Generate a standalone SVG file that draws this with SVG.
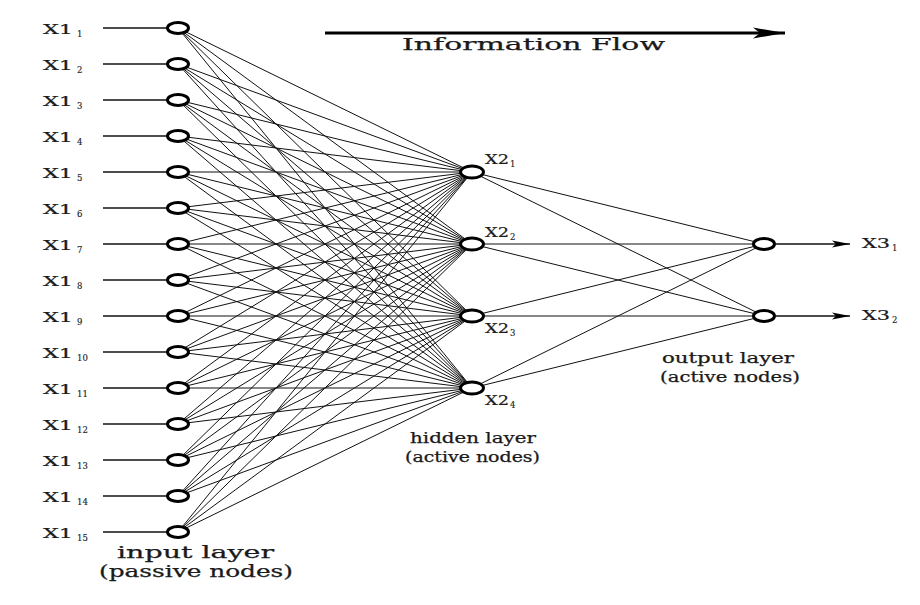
<svg xmlns="http://www.w3.org/2000/svg" width="920" height="605" viewBox="0 0 920 605">
  <style>
    .link { stroke: #111; stroke-width: 1; fill: none; }
    .feed { stroke: #111; stroke-width: 1.4; fill: none; }
    .node { fill: #fff; stroke: #000; stroke-width: 3; }
    .lbl { font-family: "DejaVu Serif", "Liberation Serif", serif; font-size: 13px; fill: #1a1a1a; stroke: #1a1a1a; stroke-width: 0.2; }
    .sub { font-family: "DejaVu Serif", "Liberation Serif", serif; font-size: 8.5px; fill: #1a1a1a; stroke: #1a1a1a; stroke-width: 0.15; }
    .cap { font-family: "DejaVu Serif", "Liberation Serif", serif; fill: #1a1a1a; stroke: #1a1a1a; stroke-width: 0.25; }
  </style>
  <defs>
    <marker id="headBig" markerUnits="userSpaceOnUse" markerWidth="34" markerHeight="14" refX="32" refY="6" orient="auto">
      <polygon points="32,6 0,0.5 7,6 0,11.5" fill="#000"/>
    </marker>
    <marker id="headSmall" markerUnits="userSpaceOnUse" markerWidth="20" markerHeight="10" refX="18" refY="4" orient="auto">
      <polygon points="18,4 0,0.5 4,4 0,7.5" fill="#000"/>
    </marker>
  </defs>
  <rect width="920" height="605" fill="#fff"/>

  <!-- direction of information flow -->
  <g id="flow">
    <line x1="325" y1="33" x2="785" y2="33" stroke="#000" stroke-width="3" marker-end="url(#headBig)"/>
    <text class="cap" x="402" y="50" font-size="17" textLength="263" lengthAdjust="spacingAndGlyphs">Information Flow</text>
  </g>

  <g id="connectors">
    <!-- input feeds -->
    <line class="feed" x1="103" y1="28" x2="167" y2="28"/>
    <line class="feed" x1="103" y1="64" x2="167" y2="64"/>
    <line class="feed" x1="103" y1="100" x2="167" y2="100"/>
    <line class="feed" x1="103" y1="136" x2="167" y2="136"/>
    <line class="feed" x1="103" y1="172" x2="167" y2="172"/>
    <line class="feed" x1="103" y1="208" x2="167" y2="208"/>
    <line class="feed" x1="103" y1="244" x2="167" y2="244"/>
    <line class="feed" x1="103" y1="280" x2="167" y2="280"/>
    <line class="feed" x1="103" y1="316" x2="167" y2="316"/>
    <line class="feed" x1="103" y1="352" x2="167" y2="352"/>
    <line class="feed" x1="103" y1="388" x2="167" y2="388"/>
    <line class="feed" x1="103" y1="424" x2="167" y2="424"/>
    <line class="feed" x1="103" y1="460" x2="167" y2="460"/>
    <line class="feed" x1="103" y1="496" x2="167" y2="496"/>
    <line class="feed" x1="103" y1="532" x2="167" y2="532"/>

    <!-- input to hidden -->
    <line class="link" x1="178" y1="28" x2="472" y2="172"/><line class="link" x1="178" y1="28" x2="472" y2="244"/><line class="link" x1="178" y1="28" x2="472" y2="316"/><line class="link" x1="178" y1="28" x2="472" y2="388"/>
    <line class="link" x1="178" y1="64" x2="472" y2="172"/><line class="link" x1="178" y1="64" x2="472" y2="244"/><line class="link" x1="178" y1="64" x2="472" y2="316"/><line class="link" x1="178" y1="64" x2="472" y2="388"/>
    <line class="link" x1="178" y1="100" x2="472" y2="172"/><line class="link" x1="178" y1="100" x2="472" y2="244"/><line class="link" x1="178" y1="100" x2="472" y2="316"/><line class="link" x1="178" y1="100" x2="472" y2="388"/>
    <line class="link" x1="178" y1="136" x2="472" y2="172"/><line class="link" x1="178" y1="136" x2="472" y2="244"/><line class="link" x1="178" y1="136" x2="472" y2="316"/><line class="link" x1="178" y1="136" x2="472" y2="388"/>
    <line class="link" x1="178" y1="172" x2="472" y2="172"/><line class="link" x1="178" y1="172" x2="472" y2="244"/><line class="link" x1="178" y1="172" x2="472" y2="316"/><line class="link" x1="178" y1="172" x2="472" y2="388"/>
    <line class="link" x1="178" y1="208" x2="472" y2="172"/><line class="link" x1="178" y1="208" x2="472" y2="244"/><line class="link" x1="178" y1="208" x2="472" y2="316"/><line class="link" x1="178" y1="208" x2="472" y2="388"/>
    <line class="link" x1="178" y1="244" x2="472" y2="172"/><line class="link" x1="178" y1="244" x2="472" y2="244"/><line class="link" x1="178" y1="244" x2="472" y2="316"/><line class="link" x1="178" y1="244" x2="472" y2="388"/>
    <line class="link" x1="178" y1="280" x2="472" y2="172"/><line class="link" x1="178" y1="280" x2="472" y2="244"/><line class="link" x1="178" y1="280" x2="472" y2="316"/><line class="link" x1="178" y1="280" x2="472" y2="388"/>
    <line class="link" x1="178" y1="316" x2="472" y2="172"/><line class="link" x1="178" y1="316" x2="472" y2="244"/><line class="link" x1="178" y1="316" x2="472" y2="316"/><line class="link" x1="178" y1="316" x2="472" y2="388"/>
    <line class="link" x1="178" y1="352" x2="472" y2="172"/><line class="link" x1="178" y1="352" x2="472" y2="244"/><line class="link" x1="178" y1="352" x2="472" y2="316"/><line class="link" x1="178" y1="352" x2="472" y2="388"/>
    <line class="link" x1="178" y1="388" x2="472" y2="172"/><line class="link" x1="178" y1="388" x2="472" y2="244"/><line class="link" x1="178" y1="388" x2="472" y2="316"/><line class="link" x1="178" y1="388" x2="472" y2="388"/>
    <line class="link" x1="178" y1="424" x2="472" y2="172"/><line class="link" x1="178" y1="424" x2="472" y2="244"/><line class="link" x1="178" y1="424" x2="472" y2="316"/><line class="link" x1="178" y1="424" x2="472" y2="388"/>
    <line class="link" x1="178" y1="460" x2="472" y2="172"/><line class="link" x1="178" y1="460" x2="472" y2="244"/><line class="link" x1="178" y1="460" x2="472" y2="316"/><line class="link" x1="178" y1="460" x2="472" y2="388"/>
    <line class="link" x1="178" y1="496" x2="472" y2="172"/><line class="link" x1="178" y1="496" x2="472" y2="244"/><line class="link" x1="178" y1="496" x2="472" y2="316"/><line class="link" x1="178" y1="496" x2="472" y2="388"/>
    <line class="link" x1="178" y1="532" x2="472" y2="172"/><line class="link" x1="178" y1="532" x2="472" y2="244"/><line class="link" x1="178" y1="532" x2="472" y2="316"/><line class="link" x1="178" y1="532" x2="472" y2="388"/>

    <!-- hidden to output -->
    <line class="link" x1="472" y1="172" x2="764" y2="244"/><line class="link" x1="472" y1="172" x2="764" y2="316"/>
    <line class="link" x1="472" y1="244" x2="764" y2="244"/><line class="link" x1="472" y1="244" x2="764" y2="316"/>
    <line class="link" x1="472" y1="316" x2="764" y2="244"/><line class="link" x1="472" y1="316" x2="764" y2="316"/>
    <line class="link" x1="472" y1="388" x2="764" y2="244"/><line class="link" x1="472" y1="388" x2="764" y2="316"/>

    <!-- outputs -->
    <line class="feed" x1="776" y1="244" x2="850" y2="244" marker-end="url(#headSmall)"/>
    <line class="feed" x1="776" y1="316" x2="850" y2="316" marker-end="url(#headSmall)"/>
  </g>

  <!-- input layer -->
  <g id="in1"><ellipse class="node" cx="178" cy="28" rx="10.5" ry="5.5"/><text class="lbl" x="43" y="34" textLength="30" lengthAdjust="spacingAndGlyphs">X1</text><text class="sub" x="77" y="37">1</text></g>
  <g id="in2"><ellipse class="node" cx="178" cy="64" rx="10.5" ry="5.5"/><text class="lbl" x="43" y="70" textLength="30" lengthAdjust="spacingAndGlyphs">X1</text><text class="sub" x="77" y="73">2</text></g>
  <g id="in3"><ellipse class="node" cx="178" cy="100" rx="10.5" ry="5.5"/><text class="lbl" x="43" y="106" textLength="30" lengthAdjust="spacingAndGlyphs">X1</text><text class="sub" x="77" y="109">3</text></g>
  <g id="in4"><ellipse class="node" cx="178" cy="136" rx="10.5" ry="5.5"/><text class="lbl" x="43" y="142" textLength="30" lengthAdjust="spacingAndGlyphs">X1</text><text class="sub" x="77" y="145">4</text></g>
  <g id="in5"><ellipse class="node" cx="178" cy="172" rx="10.5" ry="5.5"/><text class="lbl" x="43" y="178" textLength="30" lengthAdjust="spacingAndGlyphs">X1</text><text class="sub" x="77" y="181">5</text></g>
  <g id="in6"><ellipse class="node" cx="178" cy="208" rx="10.5" ry="5.5"/><text class="lbl" x="43" y="214" textLength="30" lengthAdjust="spacingAndGlyphs">X1</text><text class="sub" x="77" y="217">6</text></g>
  <g id="in7"><ellipse class="node" cx="178" cy="244" rx="10.5" ry="5.5"/><text class="lbl" x="43" y="250" textLength="30" lengthAdjust="spacingAndGlyphs">X1</text><text class="sub" x="77" y="253">7</text></g>
  <g id="in8"><ellipse class="node" cx="178" cy="280" rx="10.5" ry="5.5"/><text class="lbl" x="43" y="286" textLength="30" lengthAdjust="spacingAndGlyphs">X1</text><text class="sub" x="77" y="289">8</text></g>
  <g id="in9"><ellipse class="node" cx="178" cy="316" rx="10.5" ry="5.5"/><text class="lbl" x="43" y="322" textLength="30" lengthAdjust="spacingAndGlyphs">X1</text><text class="sub" x="77" y="325">9</text></g>
  <g id="in10"><ellipse class="node" cx="178" cy="352" rx="10.5" ry="5.5"/><text class="lbl" x="43" y="358" textLength="30" lengthAdjust="spacingAndGlyphs">X1</text><text class="sub" x="77" y="361">10</text></g>
  <g id="in11"><ellipse class="node" cx="178" cy="388" rx="10.5" ry="5.5"/><text class="lbl" x="43" y="394" textLength="30" lengthAdjust="spacingAndGlyphs">X1</text><text class="sub" x="77" y="397">11</text></g>
  <g id="in12"><ellipse class="node" cx="178" cy="424" rx="10.5" ry="5.5"/><text class="lbl" x="43" y="430" textLength="30" lengthAdjust="spacingAndGlyphs">X1</text><text class="sub" x="77" y="433">12</text></g>
  <g id="in13"><ellipse class="node" cx="178" cy="460" rx="10.5" ry="5.5"/><text class="lbl" x="43" y="466" textLength="30" lengthAdjust="spacingAndGlyphs">X1</text><text class="sub" x="77" y="469">13</text></g>
  <g id="in14"><ellipse class="node" cx="178" cy="496" rx="10.5" ry="5.5"/><text class="lbl" x="43" y="502" textLength="30" lengthAdjust="spacingAndGlyphs">X1</text><text class="sub" x="77" y="505">14</text></g>
  <g id="in15"><ellipse class="node" cx="178" cy="532" rx="10.5" ry="5.5"/><text class="lbl" x="43" y="538" textLength="30" lengthAdjust="spacingAndGlyphs">X1</text><text class="sub" x="77" y="541">15</text></g>

  <!-- hidden layer -->
  <g id="hid1"><ellipse class="node" cx="472" cy="172" rx="11.5" ry="6"/><text class="lbl" x="485" y="164" textLength="24" lengthAdjust="spacingAndGlyphs">X2</text><text class="sub" x="510" y="167">1</text></g>
  <g id="hid2"><ellipse class="node" cx="472" cy="244" rx="11.5" ry="6"/><text class="lbl" x="485" y="237" textLength="24" lengthAdjust="spacingAndGlyphs">X2</text><text class="sub" x="510" y="240">2</text></g>
  <g id="hid3"><ellipse class="node" cx="472" cy="316" rx="11.5" ry="6"/><text class="lbl" x="485" y="333" textLength="24" lengthAdjust="spacingAndGlyphs">X2</text><text class="sub" x="510" y="336">3</text></g>
  <g id="hid4"><ellipse class="node" cx="472" cy="388" rx="11.5" ry="6"/><text class="lbl" x="485" y="405" textLength="24" lengthAdjust="spacingAndGlyphs">X2</text><text class="sub" x="510" y="408">4</text></g>

  <!-- output layer -->
  <g id="out1"><ellipse class="node" cx="764" cy="244" rx="10.5" ry="5.5"/><text class="lbl" x="862" y="248" textLength="28" lengthAdjust="spacingAndGlyphs">X3</text><text class="sub" x="892" y="251">1</text></g>
  <g id="out2"><ellipse class="node" cx="764" cy="316" rx="10.5" ry="5.5"/><text class="lbl" x="862" y="320" textLength="28" lengthAdjust="spacingAndGlyphs">X3</text><text class="sub" x="892" y="323">2</text></g>

  <!-- layer captions -->
  <g id="captions">
    <text class="cap" x="117" y="558" font-size="16" textLength="157" lengthAdjust="spacingAndGlyphs">input layer</text>
    <text class="cap" x="99" y="577" font-size="16" textLength="194" lengthAdjust="spacingAndGlyphs">(passive nodes)</text>
    <text class="cap" x="410" y="443" font-size="14" textLength="126" lengthAdjust="spacingAndGlyphs">hidden layer</text>
    <text class="cap" x="405" y="462" font-size="14" textLength="135" lengthAdjust="spacingAndGlyphs">(active nodes)</text>
    <text class="cap" x="662" y="363" font-size="14" textLength="132" lengthAdjust="spacingAndGlyphs">output layer</text>
    <text class="cap" x="660" y="382" font-size="14" textLength="140" lengthAdjust="spacingAndGlyphs">(active nodes)</text>
  </g>
</svg>
